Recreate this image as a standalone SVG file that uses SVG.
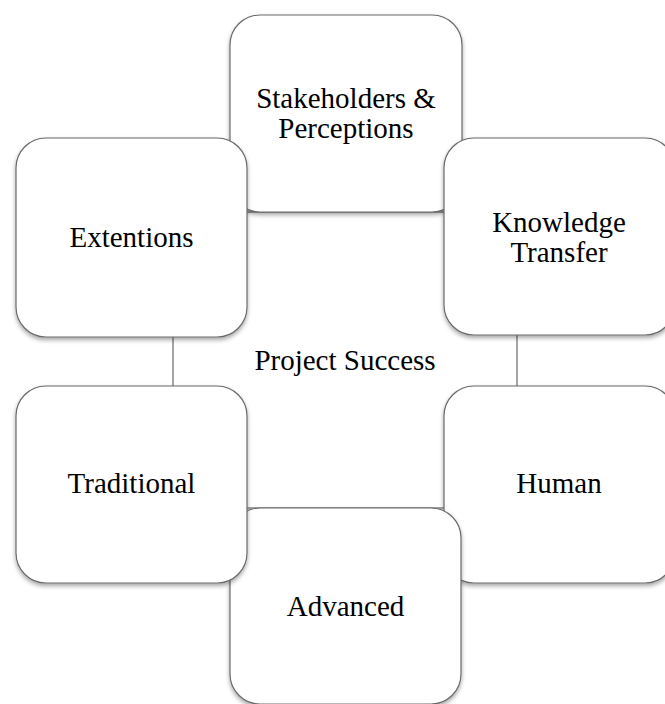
<svg xmlns="http://www.w3.org/2000/svg" width="665" height="704" viewBox="0 0 665 704">
  <defs>
    <filter id="shadow" x="-10%" y="-10%" width="125%" height="125%">
      <feDropShadow dx="0" dy="2.5" stdDeviation="2" flood-color="#000" flood-opacity="0.35"/>
    </filter>
  </defs>
  <style>
    .box { fill: #ffffff; stroke: #6a6a6a; stroke-width: 1.2; filter: url(#shadow); }
    .hub { fill: #ffffff; stroke: #6a6a6a; stroke-width: 1.2; }
    .label { font-family: "Liberation Serif", "Times New Roman", serif; font-size: 29px; fill: #000; text-anchor: middle; }
  </style>
  <rect width="665" height="704" fill="#ffffff"/>

  <!-- central hub: its outline shows as the links between the outer boxes -->
  <g id="connectors">
    <rect class="hub" x="173" y="212" width="344" height="296"/>
  </g>

  <g id="project-success">
    <text class="label" x="345" y="370">Project Success</text>
  </g>

  <g id="stakeholders">
    <rect class="box" x="230" y="15" width="232" height="197" rx="30" ry="30"/>
    <text class="label" x="346" y="108">Stakeholders &amp;</text>
    <text class="label" x="346" y="138">Perceptions</text>
  </g>

  <g id="extentions">
    <rect class="box" x="16" y="138" width="231" height="199" rx="30" ry="30"/>
    <text class="label" x="131.5" y="247">Extentions</text>
  </g>

  <g id="knowledge-transfer">
    <rect class="box" x="444" y="138" width="231" height="197" rx="30" ry="30"/>
    <text class="label" x="559" y="232">Knowledge</text>
    <text class="label" x="559" y="262">Transfer</text>
  </g>

  <g id="human">
    <rect class="box" x="444" y="386" width="231" height="197" rx="30" ry="30"/>
    <text class="label" x="559" y="493">Human</text>
  </g>

  <g id="advanced">
    <rect class="box" x="230" y="508" width="231" height="196" rx="30" ry="30"/>
    <text class="label" x="345.5" y="616">Advanced</text>
  </g>

  <g id="traditional">
    <rect class="box" x="16" y="386" width="231" height="197" rx="30" ry="30"/>
    <text class="label" x="131.5" y="493">Traditional</text>
  </g>
</svg>
